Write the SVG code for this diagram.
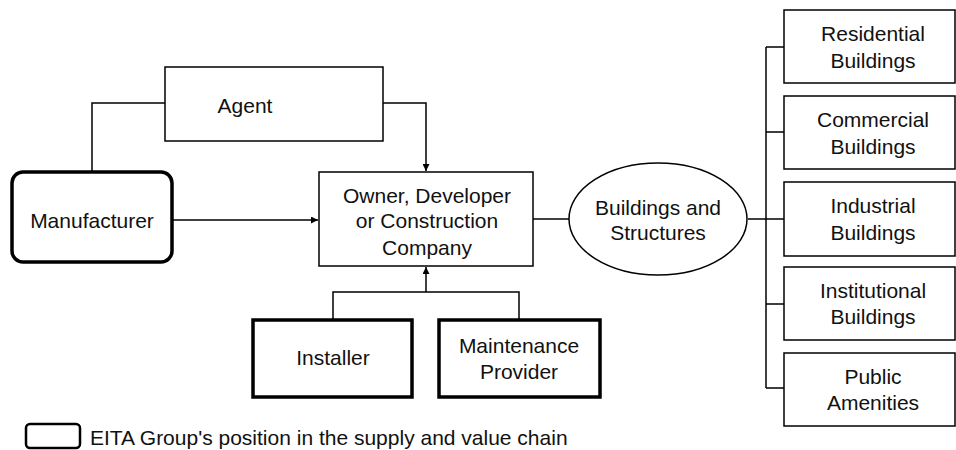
<svg xmlns="http://www.w3.org/2000/svg" width="956" height="450" viewBox="0 0 956 450">
<style>
.box{fill:#fff;stroke:#000;stroke-width:1.5}
.thick{fill:#fff;stroke:#000;stroke-width:3.5}
.ln{fill:none;stroke:#000;stroke-width:1.5}
text{font-family:"Liberation Sans",Arial,sans-serif;font-size:21px;fill:#111;text-anchor:middle;dominant-baseline:central}
</style>
<defs>
<marker id="ah" viewBox="0 0 10 10" refX="10" refY="5" markerWidth="7" markerHeight="7" orient="auto" markerUnits="userSpaceOnUse">
<path d="M0,0 L10,5 L0,10 z" fill="#000"/>
</marker>
</defs>
<g id="connectors">
<path class="ln" d="M92,172 V103 H165"/>
<path class="ln" d="M383,103 H426 V171" marker-end="url(#ah)"/>
<path class="ln" d="M172,220 H318" marker-end="url(#ah)"/>
<path class="ln" d="M333,320 V292 H519 V320"/>
<path class="ln" d="M426,292 V267" marker-end="url(#ah)"/>
<path class="ln" d="M533,219 H569"/>
<path class="ln" d="M748,219 H784"/>
<path class="ln" d="M766,47 V388"/>
<path class="ln" d="M766,47 H784 M766,132 H784 M766,304 H784 M766,388 H784"/>
</g>
<g id="agent">
<rect class="box" x="165" y="67" width="218" height="74"/>
<text x="245" y="105">Agent</text>
</g>
<g id="manufacturer">
<rect class="thick" x="12" y="172" width="160" height="90" rx="11"/>
<text x="92" y="220">Manufacturer</text>
</g>
<g id="owner">
<rect class="box" x="319" y="172" width="214" height="94"/>
<text x="427" y="195">Owner, Developer</text>
<text x="427" y="220">or Construction</text>
<text x="427" y="247">Company</text>
</g>
<g id="installer">
<rect class="thick" x="253" y="320" width="159" height="77"/>
<text x="333" y="357">Installer</text>
</g>
<g id="maintenance">
<rect class="thick" x="439" y="320" width="161" height="77"/>
<text x="519" y="345">Maintenance</text>
<text x="519" y="371">Provider</text>
</g>
<g id="buildings">
<ellipse class="box" cx="658" cy="219" rx="89" ry="56"/>
<text x="658" y="207">Buildings and</text>
<text x="658" y="232">Structures</text>
</g>
<g id="residential">
<rect class="box" x="784" y="10" width="171" height="73"/>
<text x="873" y="33">Residential</text>
<text x="873" y="60">Buildings</text>
</g>
<g id="commercial">
<rect class="box" x="784" y="96" width="171" height="73"/>
<text x="873" y="119">Commercial</text>
<text x="873" y="146">Buildings</text>
</g>
<g id="industrial">
<rect class="box" x="784" y="182" width="171" height="74"/>
<text x="873" y="205">Industrial</text>
<text x="873" y="232">Buildings</text>
</g>
<g id="institutional">
<rect class="box" x="784" y="267" width="171" height="73"/>
<text x="873" y="290">Institutional</text>
<text x="873" y="316">Buildings</text>
</g>
<g id="public">
<rect class="box" x="784" y="353" width="171" height="73"/>
<text x="873" y="376">Public</text>
<text x="873" y="402">Amenities</text>
</g>
<g id="legend">
<rect class="thick" x="26" y="424" width="54" height="24" rx="4" style="stroke-width:2.5"/>
<text x="90" y="437" style="text-anchor:start">EITA Group's position in the supply and value chain</text>
</g>
</svg>
